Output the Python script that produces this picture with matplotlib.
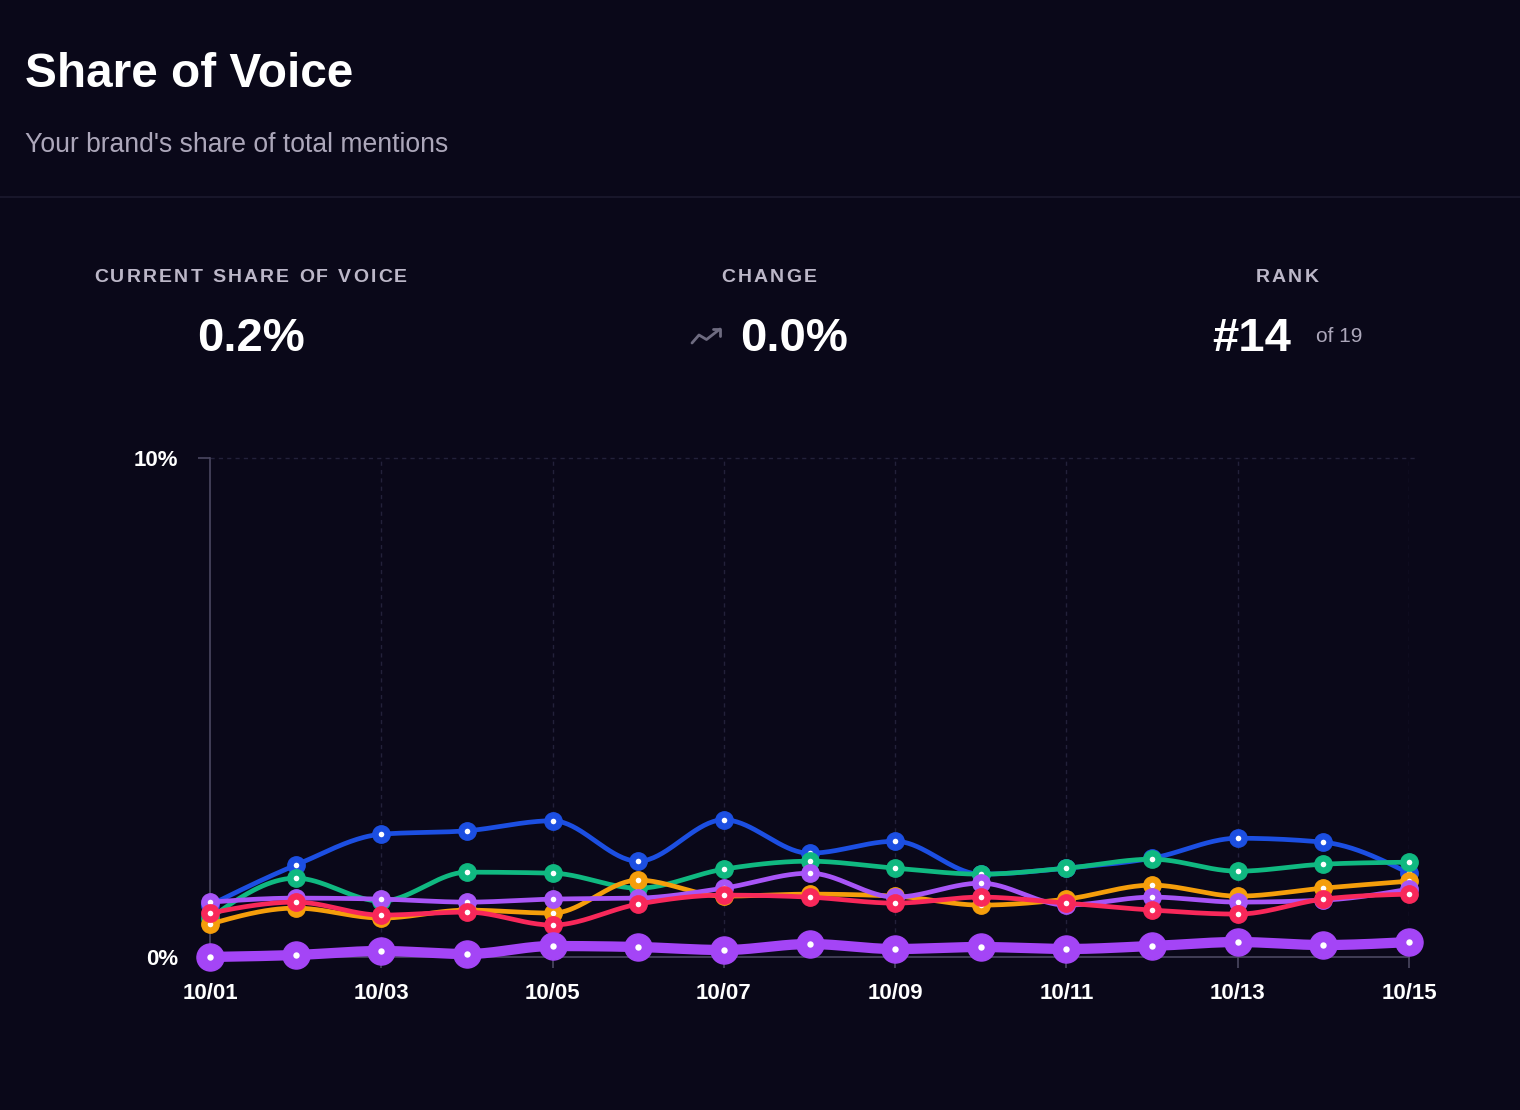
import numpy as np
import matplotlib
matplotlib.use('Agg')
import matplotlib.pyplot as plt
from matplotlib.font_manager import FontProperties

# ---------------- data ----------------
dates = ['10/01', '10/02', '10/03', '10/04', '10/05', '10/06', '10/07', '10/08',
         '10/09', '10/10', '10/11', '10/12', '10/13', '10/14', '10/15']
tick_labels = dates[::2]

competitor_blue = [1.04, 1.84, 2.46, 2.53, 2.73, 1.92, 2.75, 2.08, 2.32, 1.66, 1.78, 1.98, 2.38, 2.30, 1.68]
competitor_green = [0.78, 1.58, 1.12, 1.70, 1.68, 1.38, 1.76, 1.92, 1.78, 1.66, 1.78, 1.96, 1.72, 1.86, 1.90]
competitor_orange = [0.66, 0.98, 0.78, 0.94, 0.88, 1.54, 1.22, 1.26, 1.22, 1.04, 1.16, 1.44, 1.22, 1.38, 1.52]
competitor_purple = [1.10, 1.18, 1.16, 1.10, 1.16, 1.18, 1.38, 1.68, 1.20, 1.48, 1.04, 1.20, 1.10, 1.14, 1.36]
competitor_red = [0.88, 1.10, 0.84, 0.90, 0.64, 1.06, 1.24, 1.20, 1.08, 1.20, 1.08, 0.94, 0.86, 1.16, 1.26]
your_brand = [0.00, 0.04, 0.12, 0.06, 0.22, 0.20, 0.14, 0.26, 0.16, 0.20, 0.16, 0.22, 0.30, 0.24, 0.30]

y_ticks = [0, 10]
y_tick_labels = ['0%', '10%']

title = 'Share of Voice'
subtitle = "Your brand's share of total mentions"
stat_labels = ['CURRENT SHARE OF VOICE', 'CHANGE', 'RANK']
stat_current = '0.2%'
stat_change = '0.0%'
stat_rank = '#14'
stat_rank_of = 'of 19'

# ---------------- style ----------------
BG = '#0a0819'
FONT = 'Liberation Sans'
AXIS_C = '#4a4760'
GRID_C = '#23213a'

plt.rcParams['font.family'] = [FONT, 'DejaVu Sans']

W, H = 1520, 1110
fig = plt.figure(figsize=(W / 100, H / 100), dpi=100, facecolor=BG)

# overlay for header (pixel coordinates)
ov = fig.add_axes([0, 0, 1, 1], zorder=0)
ov.set_xlim(0, W)
ov.set_ylim(H, 0)
ov.axis('off')
ov.set_facecolor(BG)

ov.text(25, 87, title, color='white', fontsize=34.4, fontweight='bold', va='baseline', ha='left')
ov.text(25, 152, subtitle, color='#aca7ba', fontsize=19.1, va='baseline', ha='left')
ov.plot([0, W], [197, 197], color='#1b192e', lw=1.2)

renderer = fig.canvas.get_renderer()


def spaced_text(xc, y, s, size, color, spacing, weight='bold'):
    fp = FontProperties(family=FONT, size=size, weight=weight)

    def w(t):
        return renderer.get_text_width_height_descent(t, fp, ismath=False)[0]
    total = w(s) + spacing * (len(s) - 1)
    x0 = xc - total / 2
    for i, ch in enumerate(s):
        if ch == ' ':
            continue
        xi = x0 + w(s[:i + 1]) - w(ch) + i * spacing
        ov.text(xi, y, ch, fontproperties=fp, color=color, va='baseline', ha='left')


centers = [250.5, 769, 1287]
for xc, lab in zip(centers, stat_labels):
    spaced_text(xc, 282, lab, 14, '#bcb7c8', 2.2)

ov.text(251, 351, stat_current, color='white', fontsize=34, fontweight='bold', ha='center', va='baseline')
ov.text(740, 351, stat_change, color='white', fontsize=34, fontweight='bold', ha='left', va='baseline')
ov.plot([692, 699, 706.5, 720], [343, 335, 339.5, 329], color='#6e6b80', lw=2, solid_capstyle='round', solid_joinstyle='round')
ov.plot([713, 720, 720], [329, 329, 336], color='#6e6b80', lw=2, solid_capstyle='round', solid_joinstyle='round')
ov.text(1212, 351, stat_rank, color='white', fontsize=34, fontweight='bold', ha='left', va='baseline')
ov.text(1316, 342, stat_rank_of, color='#aca7ba', fontsize=15, ha='left', va='baseline')

# ---------------- chart ----------------
L, R, T, B = 210, 1409, 458, 957
ax = fig.add_axes([L / W, (H - B) / H, (R - L) / W, (B - T) / H], zorder=2)
ax.set_facecolor('none')
ax.set_xlim(0, len(dates) - 1)
ax.set_ylim(0, 10)

for sp in ['top', 'right']:
    ax.spines[sp].set_visible(False)
for sp in ['left', 'bottom']:
    ax.spines[sp].set_color(AXIS_C)
    ax.spines[sp].set_linewidth(1.2)

xt = list(range(0, len(dates), 2))
ax.set_xticks(xt)
ax.set_xticklabels(tick_labels)
ax.set_yticks(y_ticks)
ax.set_yticklabels(y_tick_labels)
ax.tick_params(axis='x', length=8, width=1.2, color=AXIS_C, pad=11,
               labelsize=16, labelcolor='white')
ax.tick_params(axis='y', length=8.6, width=1.2, color=AXIS_C, pad=14,
               labelsize=16, labelcolor='white')
for lbl in ax.get_xticklabels() + ax.get_yticklabels():
    lbl.set_fontweight('bold')

for xv in xt[1:]:
    ax.axvline(xv, color=GRID_C, lw=1, ls=(0, (3, 3)), zorder=0)
ax.plot([0, 14.1], [10, 10], color=GRID_C, lw=1, ls=(0, (3, 3)), zorder=0, clip_on=False)


def monotone(xs, ys, n=40):
    xs = np.asarray(xs, float)
    ys = np.asarray(ys, float)
    h = np.diff(xs)
    s = np.diff(ys) / h
    m = len(xs)
    t = np.zeros(m)
    for i in range(1, m - 1):
        h0, h1, s0, s1 = h[i - 1], h[i], s[i - 1], s[i]
        p = (s0 * h1 + s1 * h0) / (h0 + h1)
        t[i] = (np.sign(s0) + np.sign(s1)) * min(abs(s0), abs(s1), 0.5 * abs(p))
    t[0] = (3 * s[0] - t[1]) / 2
    t[-1] = (3 * s[-1] - t[-2]) / 2
    X, Y = [], []
    for i in range(m - 1):
        u = np.linspace(0, 1, n)
        h00 = 2 * u**3 - 3 * u**2 + 1
        h10 = u**3 - 2 * u**2 + u
        h01 = -2 * u**3 + 3 * u**2
        h11 = u**3 - u**2
        X.append(xs[i] + u * h[i])
        Y.append(h00 * ys[i] + h10 * h[i] * t[i] + h01 * ys[i + 1] + h11 * h[i] * t[i + 1])
    return np.concatenate(X), np.concatenate(Y)


xi = np.arange(len(dates))
series = [
    (competitor_blue, '#1c4fe2', 3.4, 12.5, 4.0),
    (competitor_green, '#10b981', 3.4, 12.5, 4.0),
    (competitor_orange, '#f59e0b', 3.4, 12.5, 4.0),
    (competitor_purple, '#a855f7', 3.4, 12.5, 4.0),
    (competitor_red, '#f8285a', 3.4, 12.5, 4.0),
    (your_brand, '#a445f6', 7.4, 19.5, 4.6),
]
z = 3
for vals, col, lw, ms, ims in series:
    sx, sy = monotone(xi, vals)
    ax.plot(sx, sy, color=col, lw=lw, zorder=z, clip_on=False, solid_capstyle='round')
    ax.plot(xi, vals, ls='none', marker='o', ms=ms, mfc=col, mec=col, zorder=z + 0.1, clip_on=False)
    ax.plot(xi, vals, ls='none', marker='o', ms=ims, mfc='white', mec='white', mew=0, zorder=z + 0.2, clip_on=False)
    z += 1

fig.savefig('out.png', dpi=100, facecolor=BG)
